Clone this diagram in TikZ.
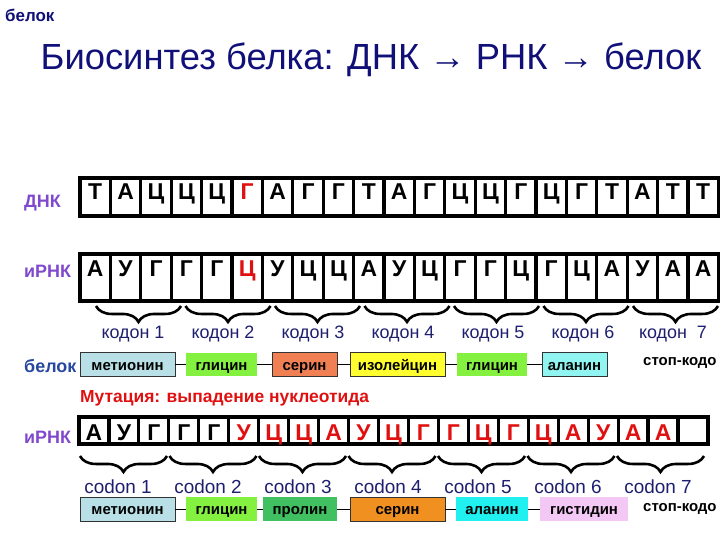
\documentclass[tikz,border=0pt]{standalone}
\usepackage{fontspec}
\setmainfont{Liberation Sans}
\usetikzlibrary{decorations.pathreplacing}

\definecolor{titleblue}{RGB}{16,16,120}
\definecolor{labelviolet}{RGB}{128,72,204}
\definecolor{labelblue}{RGB}{40,72,160}
\definecolor{codonblue}{RGB}{30,30,110}
\definecolor{mutred}{RGB}{224,16,16}
\definecolor{metfill}{RGB}{184,224,230}
\definecolor{glyfill}{RGB}{132,240,64}
\definecolor{serfill}{RGB}{240,128,84}
\definecolor{ilefill}{RGB}{255,255,48}
\definecolor{alafill}{RGB}{144,244,240}
\definecolor{profill}{RGB}{64,192,96}
\definecolor{sertwofill}{RGB}{240,144,32}
\definecolor{alatwofill}{RGB}{32,240,240}
\definecolor{hisfill}{RGB}{244,200,244}

\tikzset{
  cellbox/.style={draw=black, fill=white, line width=3.2pt},
  letter/.style={font=\bfseries\fontsize{23}{23}\selectfont, anchor=base, inner sep=0pt},
  rowlabel/.style={font=\bfseries\fontsize{18}{18}\selectfont, anchor=west, inner sep=0pt},
  codonlabel/.style={font=\fontsize{18}{18}\selectfont, text=codonblue, inner sep=0pt},
  codonbrace/.style={decorate, decoration={brace, mirror, amplitude=16pt}, line width=2.6pt},
  amino/.style={font=\bfseries\fontsize{15}{15}\selectfont, minimum height=24, inner sep=0pt, text height=11.5, text depth=0},
  link/.style={line width=0.8pt},
}

\begin{document}
\begin{tikzpicture}[x=1bp, y=-1bp]
\useasboundingbox (0,0) rectangle (720,540);

% Marking headings
\node[font=\bfseries\fontsize{17}{17}\selectfont, text=titleblue, anchor=west, inner sep=0pt] (corner) at (5,15) {белок};
\node[font=\fontsize{36.5}{37}\selectfont, text=titleblue, inner sep=0pt] (title) at (371,60) {Биосинтез белка: ДНК → РНК → белок};

% Marking row labels
\node[rowlabel, text=labelviolet] (lbldna) at (24,203) {ДНК};
\node[rowlabel, text=labelviolet] (lblrna) at (24,271) {иРНК};
\node[rowlabel, text=labelblue] (lblprot) at (24,366) {белок};
\node[rowlabel, text=labelviolet] (lblmut) at (24,437) {иРНК};

% Drawing strip DNA
\foreach \c/\col [count=\i from 0] in {Т/black,А/black,Ц/black,Ц/black,Ц/black,Г/mutred,А/black,Г/black,Г/black,Т/black,А/black,Г/black,Ц/black,Ц/black,Г/black,Ц/black,Г/black,Т/black,А/black,Т/black,Т/black}{
  \draw[cellbox] (80+\i*30.4,178) rectangle ++(30.4,38);
  \node[letter, text=\col] (dna\i) at (95.2+\i*30.4,200) {\c};
}

% Drawing strip mRNA
\foreach \c/\col [count=\i from 0] in {А/black,У/black,Г/black,Г/black,Г/black,Ц/mutred,У/black,Ц/black,Ц/black,А/black,У/black,Ц/black,Г/black,Г/black,Ц/black,Г/black,Ц/black,А/black,У/black,А/black,А/black}{
  \draw[cellbox] (80+\i*30.4,254) rectangle ++(30.4,47);
  \node[letter, text=\col] (rna\i) at (95.2+\i*30.4,277) {\c};
}

% Drawing codon braces
\foreach \i in {0,...,6}{
  \draw[codonbrace] (96+\i*89.5,306) -- ++(85,0);
}

% Marking codons
\foreach \t [count=\i from 0] in {кодон 1,кодон 2,кодон 3,кодон 4,кодон 5,кодон 6,кодон~~7}{
  \node[codonlabel] (cod\i) at (133+\i*90,334) {\t};
}

% Drawing protein
\node[amino, draw=black!80, fill=metfill, minimum width=95] (met) at (127.5,364.5) {метионин};
\node[amino, fill=glyfill, minimum width=71] (gly) at (221.5,364.5) {глицин};
\node[amino, draw=black!80, fill=serfill, minimum width=65] (ser) at (304.5,364.5) {серин};
\node[amino, draw=black!80, fill=ilefill, minimum width=95] (ile) at (397.5,364.5) {изолейцин};
\node[amino, fill=glyfill, minimum width=70] (glyb) at (492,364.5) {глицин};
\node[amino, draw=black!80, fill=alafill, minimum width=65] (ala) at (574.5,364.5) {аланин};
\node[amino, anchor=west] (stop) at (643,360) {стоп-кодо};
\draw[link] (met) -- (gly);
\draw[link] (gly) -- (ser);
\draw[link] (ser) -- (ile);
\draw[link] (ile) -- (glyb);
\draw[link] (glyb) -- (ala);

% Marking mutation
\node[font=\bfseries\fontsize{17.5}{18}\selectfont, text=mutred, anchor=west, inner sep=0pt] (mutation) at (80,398) {Мутация: выпадение нуклеотида};

% Drawing strip mutated mRNA
\foreach \c/\col [count=\i from 0] in {А/black,У/black,Г/black,Г/black,Г/black,У/mutred,Ц/mutred,Ц/mutred,А/mutred,У/mutred,Ц/mutred,Г/mutred,Г/mutred,Ц/mutred,Г/mutred,Ц/mutred,А/mutred,У/mutred,А/mutred,А/mutred,{}/black}{
  \draw[cellbox] (79+\i*29.95,417) rectangle ++(29.95,27);
  \node[letter, text=\col] (mut\i) at (94+\i*29.95,440) {\c};
}

% Drawing shifted codon braces
\foreach \i in {0,...,6}{
  \draw[codonbrace] (80+\i*89.5,456) -- ++(87,0);
}

% Marking shifted codons
\foreach \i in {1,...,7}{
  \node[codonlabel, font=\fontsize{19}{19}\selectfont] (codb\i) at (28+\i*90,487) {codon \i};
}

% Drawing mutated protein
\node[amino, draw=black!80, fill=metfill, minimum width=95] (metb) at (127.5,509) {метионин};
\node[amino, fill=glyfill, minimum width=71] (glyc) at (221.5,509) {глицин};
\node[amino, fill=profill, minimum width=74] (pro) at (300,509) {пролин};
\node[amino, draw=black!80, fill=sertwofill, minimum width=95] (serb) at (397.5,509) {серин};
\node[amino, fill=alatwofill, minimum width=72] (alab) at (492,509) {аланин};
\node[amino, fill=hisfill, minimum width=88] (his) at (584,509) {гистидин};
\node[amino, anchor=west] (stopb) at (643,506) {стоп-кодо};
\draw[link] (metb) -- (glyc);
\draw[link] (glyc) -- (pro);
\draw[link] (pro) -- (serb);
\draw[link] (serb) -- (alab);
\draw[link] (alab) -- (his);
\end{tikzpicture}
\end{document}
